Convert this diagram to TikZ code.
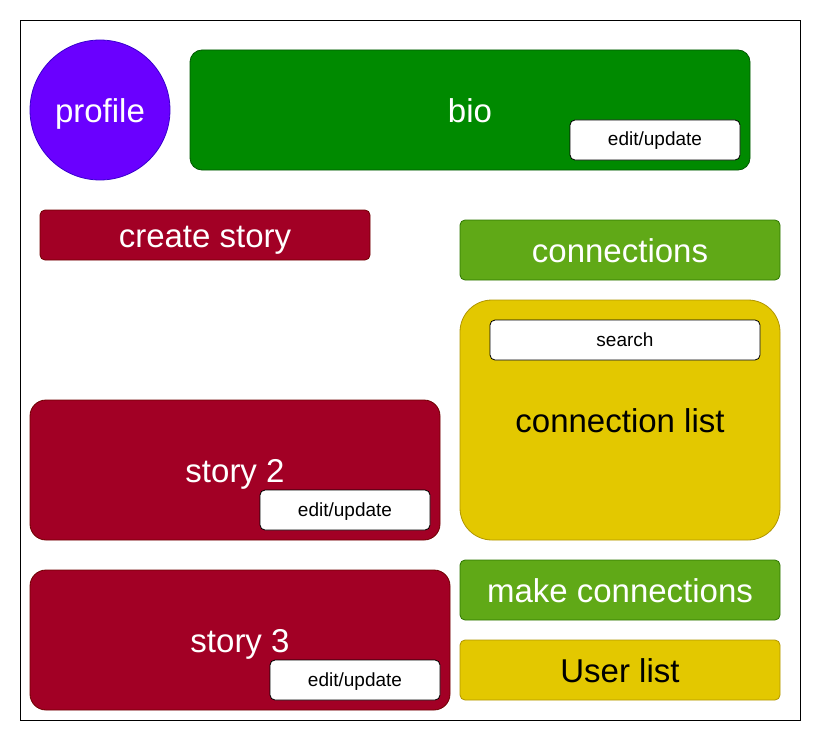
\documentclass[tikz,border=0pt]{standalone}
\usepackage{fontspec}
\setmainfont{Liberation Sans}
\usepackage{xcolor}
\usepackage{tikz}
\usetikzlibrary{shapes.geometric,positioning,calc}
\definecolor{profilecolor}{RGB}{106,0,255}
\definecolor{profileline}{RGB}{55,0,204}
\definecolor{biocolor}{RGB}{0,138,0}
\definecolor{bioline}{RGB}{0,87,0}
\definecolor{storycolor}{RGB}{162,0,37}
\definecolor{storyline}{RGB}{111,0,0}
\definecolor{linkcolor}{RGB}{96,169,23}
\definecolor{linkline}{RGB}{45,118,0}
\definecolor{listcolor}{RGB}{227,200,0}
\definecolor{listline}{RGB}{176,149,0}

\tikzset{
    panel/.style={draw, line width=0.8pt, inner sep=0pt, text height=25pt, text depth=0pt,
        font=\fontsize{33}{36}\selectfont},
    biobox/.style={panel, fill=biocolor, draw=bioline, text=white, rounded corners=12pt},
    storybox/.style={panel, fill=storycolor, draw=storyline, text=white},
    linkbox/.style={panel, fill=linkcolor, draw=linkline, text=white, rounded corners=5pt},
    listbox/.style={panel, fill=listcolor, draw=listline, text=black},
    editbox/.style={draw=black, line width=0.8pt, fill=white, rounded corners=5pt, inner sep=0pt,
        text height=12pt, text depth=0pt,
        minimum width=170pt, minimum height=40pt, font=\fontsize{19}{22}\selectfont}
}

\begin{document}
\begin{tikzpicture}[x=1pt, y=-1pt]
\useasboundingbox (0,0) rectangle (821,741);
\draw[line width=0.8pt] (20,20) rectangle (800,720);

% top row
\node[panel, circle, fill=profilecolor, draw=profileline, text=white, minimum size=140pt] (profile) at (100,110) {profile};
\node[biobox, minimum width=560pt, minimum height=120pt] (bio) at (470,110) {bio};
\node[editbox] (bioedit) at (655,140) {edit/update};

% stories
\node[storybox, rounded corners=5pt, minimum width=330pt, minimum height=50pt] (createstory) at (205,235) {create story};
\node[storybox, rounded corners=16pt, minimum width=410pt, minimum height=140pt] (story2) at (235,470) {story 2};
\node[editbox] (story2edit) at (345,510) {edit/update};
\node[storybox, rounded corners=16pt, minimum width=420pt, minimum height=140pt] (story3) at (240,640) {story 3};
\node[editbox] (story3edit) at (355,680) {edit/update};

% connections
\node[linkbox, minimum width=320pt, minimum height=60pt] (connections) at (620,250) {connections};
\node[listbox, rounded corners=32pt, minimum width=320pt, minimum height=240pt] (connlist) at (620,420) {connection list};
\node[editbox, minimum width=270pt] (search) at (625,340) {search};
\node[linkbox, minimum width=320pt, minimum height=60pt] (makeconn) at (620,590) {make connections};
\node[listbox, rounded corners=5pt, minimum width=320pt, minimum height=60pt] (userlist) at (620,670) {User list};
\end{tikzpicture}
\end{document}
